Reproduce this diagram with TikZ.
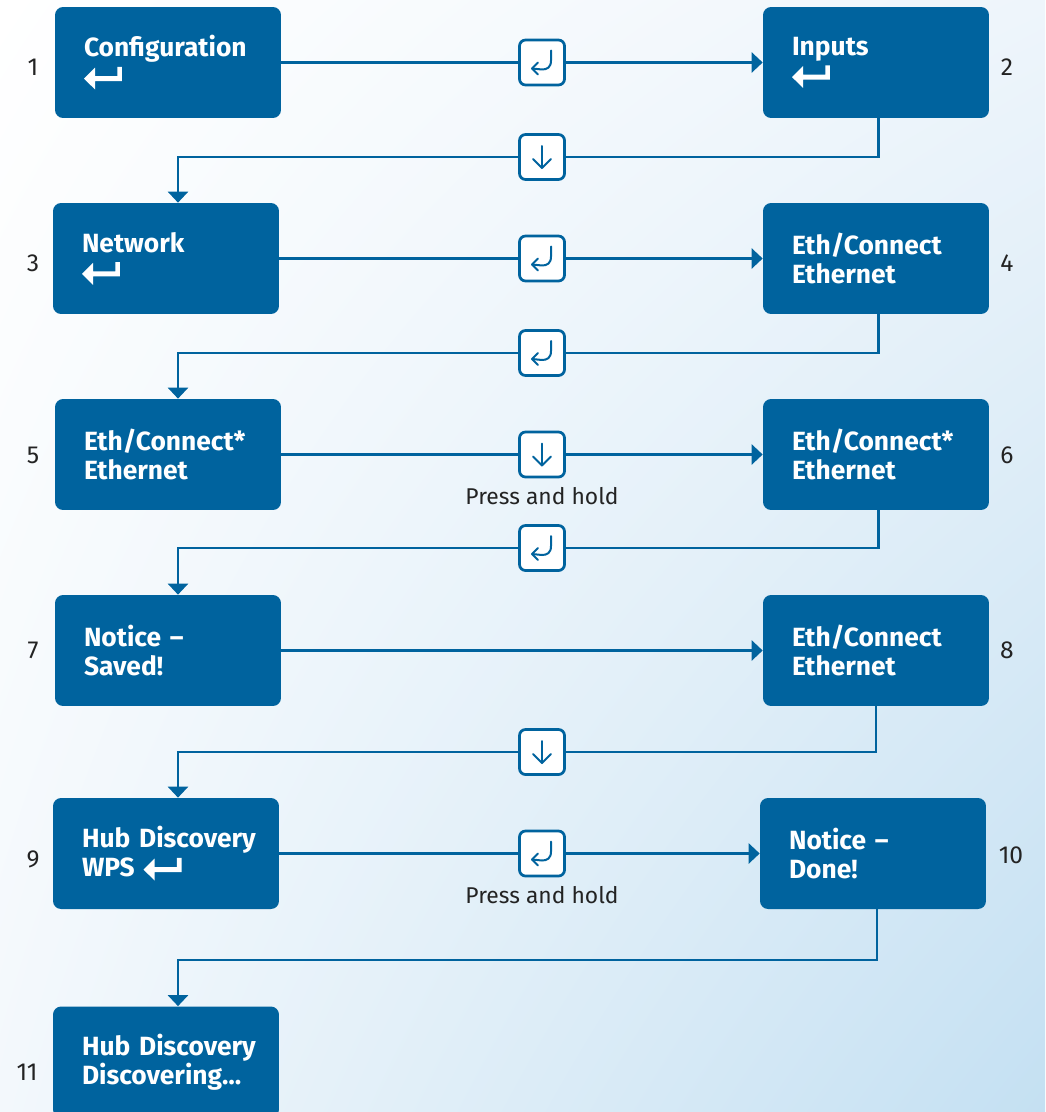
\documentclass[tikz,border=0pt]{standalone}
\usepackage{fontspec}
\setmainfont{Fira Sans}
\usetikzlibrary{arrows.meta,positioning,shadings}

\definecolor{boxblue}{RGB}{0,99,158}
\definecolor{bgblue}{RGB}{196,224,242}
\definecolor{bgtop}{RGB}{238,245,251}
\definecolor{bgleft}{RGB}{243,248,252}
\definecolor{numgray}{RGB}{35,35,35}

% white enter key inside the boxes
\newcommand{\enterkey}{\tikz[baseline=0pt,x=1pt,y=1pt,sharp corners]\fill[white] (0,4.1) -- (6.3,10.4) -- (6.3,5.5) -- (19,5.5) -- (19,10.8) -- (21.6,10.8) -- (21.6,2.7) -- (6.3,2.7) -- (6.3,-2.1) -- cycle;}
% key marks
\newcommand{\retmark}[1]{\draw[keyline,shift={(#1)}] (9,-12) -- (9,-2) .. controls (9,5) and (5,7) .. (0,7) -- (-10,6); \draw[keyline,shift={(#1)}] (-4,0) -- (-10,6) -- (-4,12);}
\newcommand{\downmark}[1]{\draw[keyline,shift={(#1)}] (0,-11) -- (0,11); \draw[keyline,shift={(#1)}] (-9,2) -- (0,11) -- (9,2);}

\begin{document}
\begin{tikzpicture}[x=0.02cm,y=-0.02cm,
  stepbox/.style={fill=boxblue,rounded corners=0.16cm,minimum width=4.52cm,minimum height=2.22cm,inner xsep=0.58cm,inner ysep=0pt,text width=3.36cm,align=left,text=white,font=\fontsize{15}{16.5}\selectfont\bfseries},
  keybox/.style={draw=boxblue,fill=white,line width=0.055cm,rounded corners=0.12cm,minimum size=0.9cm,inner sep=0pt},
  link/.style={draw=boxblue,line width=0.05cm},
  arrowin/.style={-{Triangle[length=0.22cm,width=0.4cm]}},
  num/.style={text=numgray,font=\fontsize{14}{16}\selectfont,inner sep=0pt},
  note/.style={text=numgray,font=\fontsize{13}{15}\selectfont,inner sep=0pt},
  keyline/.style={draw=boxblue,line width=0.04cm,line cap=round,line join=round}]
\useasboundingbox (0,0) rectangle (1045,1112);
\clip (0,0) rectangle (1045,1112);
\shade[upper left=white,upper right=bgtop,lower left=bgleft,lower right=bgblue] (0,0) rectangle (1045,1112);

% steps
\node[stepbox] (b1) at (168,62.5) {Configuration\\\enterkey};
\node[stepbox] (b2) at (876,62.5) {Inputs\\\enterkey};
\node[stepbox] (b3) at (166,258.5) {Network\\\enterkey};
\node[stepbox] (b4) at (876,258.5) {Eth/Connect\\Ethernet};
\node[stepbox] (b5) at (168,454.5) {Eth/Connect*\\Ethernet};
\node[stepbox] (b6) at (876,454.5) {Eth/Connect*\\Ethernet};
\node[stepbox] (b7) at (168,650.5) {Notice –\\Saved!};
\node[stepbox] (b8) at (876,650.5) {Eth/Connect\\Ethernet};
\node[stepbox] (b9) at (166,853.5) {\mbox{Hub Discovery}\\WPS \enterkey};
\node[stepbox] (b10) at (873,853.5) {Notice –\\Done!};
\node[stepbox] (b11) at (166,1062) {\mbox{Hub Discovery}\\Discovering…};

% numbers
\node[num] (n1) at (33,67) {1};
\node[num] (n2) at (1007,67) {2};
\node[num] (n3) at (33,263) {3};
\node[num] (n4) at (1007,263) {4};
\node[num] (n5) at (33,455) {5};
\node[num] (n6) at (1007,455) {6};
\node[num] (n7) at (33,650) {7};
\node[num] (n8) at (1007,650) {8};
\node[num] (n9) at (33,859) {9};
\node[num] (n10) at (1011,855) {10};
\node[num] (n11) at (27,1072) {11};

% keys
\node[keybox] (k1) at (542,62.5) {};
\node[keybox] (k2) at (542,157) {};
\node[keybox] (k3) at (542,258.5) {};
\node[keybox] (k4) at (542,353) {};
\node[keybox] (k5) at (542,454.5) {};
\node[keybox] (k6) at (542,548) {};
\node[keybox] (k7) at (542,752) {};
\node[keybox] (k8) at (542,853.5) {};
\retmark{k1}
\downmark{k2}
\retmark{k3}
\retmark{k4}
\downmark{k5}
\retmark{k6}
\downmark{k7}
\retmark{k8}

\node[note,below=0.18cm of k5] (p5) {Press and hold};
\node[note,below=0.18cm of k8] (p8) {Press and hold};
\coordinate (c10) at (542,960);

% connectors
\draw[link] (b1) -- (k1);
\draw[link,arrowin] (k1) -- (b2);
\draw[link] ([xshift=0.05cm]b2.south) |- (k2);
\draw[link,arrowin] (k2) -| ([xshift=0.24cm]b3.north);
\draw[link] (b3) -- (k3);
\draw[link,arrowin] (k3) -- (b4);
\draw[link] ([xshift=0.05cm]b4.south) |- (k4);
\draw[link,arrowin] (k4) -| ([xshift=0.2cm]b5.north);
\draw[link] (b5) -- (k5);
\draw[link,arrowin] (k5) -- (b6);
\draw[link] ([xshift=0.05cm]b6.south) |- (k6);
\draw[link,arrowin] (k6) -| ([xshift=0.2cm]b7.north);
\draw[link,arrowin] (b7) -- (b8);
\draw[link] (b8.south) |- (k7);
\draw[link,arrowin] (k7) -| ([xshift=0.24cm]b9.north);
\draw[link] (b9) -- (k8);
\draw[link,arrowin] (k8) -- (b10);
\draw[link,arrowin] ([xshift=0.08cm]b10.south) |- (c10) -| ([xshift=0.24cm]b11.north);
\end{tikzpicture}
\end{document}
